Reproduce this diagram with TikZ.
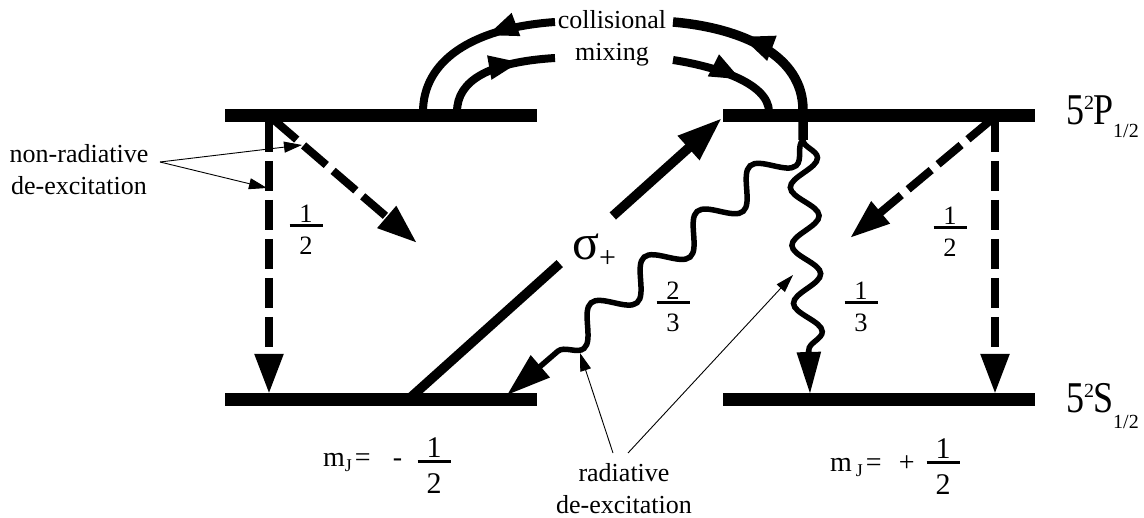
\documentclass[tikz,border=0pt]{standalone}
\usepackage{fontspec}
\setmainfont{Liberation Serif}
\usetikzlibrary{arrows.meta,decorations.pathmorphing,decorations.markings,calc}
\newcommand\fr[2]{\vbox{\offinterlineskip\halign{\hfil##\hfil\cr #1\cr\noalign{\kern0.06em}\rule{33pt}{3pt}\cr\noalign{\kern0.38em}#2\cr}}}
\newcommand\tallc[1]{\scalebox{1}[1.22]{#1}}
\begin{document}
\begin{tikzpicture}[x=1pt,y=-1pt,
  lvl/.style={fill=black, inner sep=0pt, outer sep=0pt, minimum width=312pt, minimum height=13pt},
  lbl/.style={font=\fontsize{26}{32}\selectfont, inner sep=0pt, align=center},
  frc/.style={font=\fontsize{26.5}{30}\selectfont, inner sep=0pt},
  frcb/.style={font=\fontsize{30}{34}\selectfont, inner sep=0pt},
  big/.style={font=\fontsize{36}{36}\selectfont, inner sep=0pt},
  mj/.style={font=\fontsize{28}{28}\selectfont, inner sep=0pt},
  dsh/.style={line width=8pt, dash pattern=on 30pt off 9pt, -{Triangle[length=40pt,width=27pt]}},
  sig/.style={line width=9.5pt},
  wv/.style={line width=5.5pt, decorate},
  col/.style={line width=8pt, postaction={decorate}},
  ptr/.style={line width=0.9pt, -{Triangle[length=18pt,width=11pt]}}
]
\useasboundingbox (0,0) rectangle (1144,518);

% energy levels
\node[lvl] (PL) at (381,116) {};
\node[lvl] (PR) at (879,116) {};
\node[lvl] (SL) at (381,400) {};
\node[lvl] (SR) at (879,400) {};

% level labels
\node[big, anchor=base west] (Plab) at (1066,125)
  {\tallc{5}\raisebox{15pt}{\fontsize{20}{20}\selectfont 2}\kern-1pt\tallc{P}\raisebox{-13pt}{\fontsize{20}{20}\selectfont 1/2}};
\node[big, anchor=base west] (Slab) at (1066,413)
  {\tallc{5}\raisebox{15pt}{\fontsize{20}{20}\selectfont 2}\kern-1pt\tallc{S}\raisebox{-16pt}{\fontsize{20}{20}\selectfont 1/2}};

% m_J labels
\node[mj, anchor=base west] (mjL) at (323,467)
  {m\raisebox{-5pt}{\fontsize{18}{18}\selectfont J}\kern3pt=\kern22pt-};
\node[frcb] (fL) at (434,466) {\fr{1}{2}};
\node[mj, anchor=base west] (mjR) at (830,472)
  {m\kern4pt\raisebox{-5pt}{\fontsize{18}{18}\selectfont J}\kern3pt=\kern17pt+};
\node[frcb] (fR) at (943,467) {\fr{1}{2}};

% branching ratios
\node[frc] (hL) at (306,230) {\fr{1}{2}};
\node[frc] (hR) at (950,232) {\fr{1}{2}};
\node[frc] (tw) at (673,307) {\fr{2}{3}};
\node[frc] (th) at (861,307) {\fr{1}{3}};

% sigma+
\node[inner sep=0pt, anchor=base west, font=\fontsize{50}{50}\selectfont] (sg) at (572,260)
  {σ\raisebox{-8pt}{\fontsize{30}{30}\selectfont +}};

% text labels
\node[lbl] (coll) at (612,38) {collisional\\mixing};
\node[lbl] (nonrad) at (79,170) {non-radiative\\de-excitation};
\node[lbl] (rad) at (624,489) {radiative\\de-excitation};

% sigma+ excitation
\coordinate (s0) at (410,398);
\coordinate (s1) at (722,118);
\draw[sig] (s0) -- ($(s0)!0.48!(s1)$);
\draw[sig, -{Triangle[length=45pt,width=30pt]}] ($(s0)!0.65!(s1)$) -- (s1);

% non-radiative (dashed) decays
\coordinate (dl0) at (269,122); \coordinate (dl1) at (269,394);
\coordinate (dd0) at (274,120); \coordinate (dd1) at (417,243);
\coordinate (dr0) at (995,122); \coordinate (dr1) at (995,394);
\coordinate (de0) at (991,120); \coordinate (de1) at (850,238);
\draw[dsh] (dl0) -- (dl1);
\draw[dsh] (dd0) -- (dd1);
\draw[dsh] (dr0) -- (dr1);
\draw[dsh] (de0) -- (de1);

% radiative (wavy) decays
\coordinate (w0) at (803,140);
\coordinate (wd1) at (507,395);
\coordinate (wv1) at (810,394);
\draw[wv, decoration={snake, segment length=70pt, amplitude=15pt, post length=44pt},
      -{Triangle[length=44pt,width=28pt]}] (w0) -- (wd1);
\draw[wv, decoration={snake, segment length=58pt, amplitude=14pt, post length=42pt},
      -{Triangle[length=42pt,width=23pt]}] (w0) -- (wv1);

% collisional mixing arcs
\coordinate (cLo0) at (555,22);  \coordinate (cLo1) at (423,112);
\coordinate (cLi0) at (457,112); \coordinate (cLi1) at (555,58);
\coordinate (cRi0) at (673,60);  \coordinate (cRi1) at (769,112);
\coordinate (cRo0) at (803,140); \coordinate (cRoM) at (803,110); \coordinate (cRo1) at (673,22);
\draw[col, decoration={markings, mark=at position 0.40 with {\arrow{Triangle[length=32pt,width=22pt]}}}]
  (cLo0) .. controls (470,28) and (423,62) .. (cLo1);
\draw[col, decoration={markings, mark=at position 0.72 with {\arrow{Triangle[length=32pt,width=22pt]}}}]
  (cLi0) .. controls (457,80) and (490,62) .. (cLi1);
\draw[col, decoration={markings, mark=at position 0.62 with {\arrow{Triangle[length=32pt,width=22pt]}}}]
  (cRi0) .. controls (712,66) and (769,82) .. (cRi1);
\draw[col, line width=9.5pt, decoration={markings, mark=at position 0.66 with {\arrow{Triangle[length=34pt,width=24pt]}}}]
  (cRo0) -- (cRoM) .. controls (803,55) and (742,28) .. (cRo1);

% pointers
\coordinate (nt) at (160,162);
\coordinate (np1) at (302,145);
\coordinate (np2) at (267,188);
\draw[ptr] (nt) -- (np1);
\draw[ptr] (nt) -- (np2);
\coordinate (rt1) at (613,453);
\coordinate (rt2) at (628,453);
\coordinate (rp1) at (580,353);
\coordinate (rp2) at (793,275);
\draw[ptr] (rt1) -- (rp1);
\draw[ptr] (rt2) -- (rp2);
\end{tikzpicture}
\end{document}
